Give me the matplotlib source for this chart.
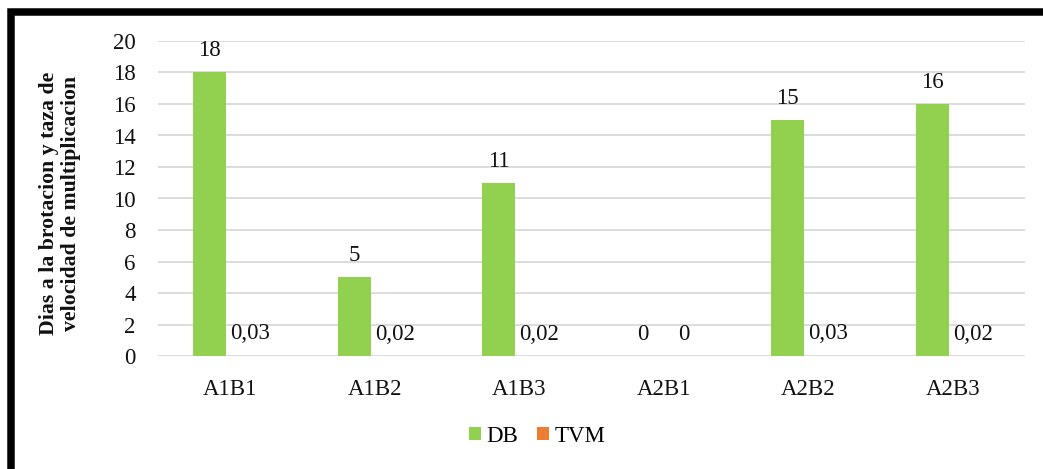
import matplotlib
matplotlib.use("Agg")
import matplotlib.pyplot as plt
import numpy as np
from matplotlib.patches import Rectangle

categories = ["A1B1", "A1B2", "A1B3", "A2B1", "A2B2", "A2B3"]
db_values = [18, 5, 11, 0, 15, 16]
tvm_values = [0.03, 0.02, 0.02, 0, 0.03, 0.02]
db_labels = ["18", "5", "11", "0", "15", "16"]
tvm_labels = ["0,03", "0,02", "0,02", "0", "0,03", "0,02"]
y_ticks = list(range(0, 21, 2))

plt.rcParams["font.family"] = ["Liberation Serif", "DejaVu Serif"]

W, H = 1043, 469
fig = plt.figure(figsize=(W / 100, H / 100), dpi=100)
ax = fig.add_axes([158 / W, 1 - 356 / H, (1025 - 158) / W, (356 - 41) / H])

green = "#92D050"
orange = "#ED7D31"
x = np.arange(len(categories))
w = 0.228
shift = -0.028  # groups sit slightly left of the category centre

b1 = ax.bar(x + shift - w / 2, db_values, w, color=green, label="DB", zorder=3)
b2 = ax.bar(x + shift + w / 2, tvm_values, w, color=orange, label="TVM", zorder=3)

for xi, v, lab in zip(x, db_values, db_labels):
    ax.annotate(lab, (xi + shift - w / 2, v), xytext=(0, 8), textcoords="offset points",
                ha="center", va="bottom", fontsize=16.5, color="#111111")
for xi, v, lab in zip(x, tvm_values, tvm_labels):
    ax.annotate(lab, (xi + shift + w / 2, v), xytext=(5.5, 8), textcoords="offset points",
                ha="center", va="bottom", fontsize=16.5, color="#111111")

ax.set_xlim(-0.5, len(categories) - 0.5)
ax.set_ylim(0, 20)
ax.set_yticks(y_ticks)
ax.set_xticks(x)
ax.set_xticklabels(categories)
ax.tick_params(axis="both", length=0, labelsize=16.5, colors="#111111")
ax.tick_params(axis="y", pad=16)
ax.tick_params(axis="x", pad=16.5)
ax.grid(axis="y", color="#d9d9d9", linewidth=1.3, zorder=0)
for s in ax.spines.values():
    s.set_visible(False)

fig.text(60 / W, 1 - 203 / H, "Dias a la brotacion y taza de\nvelocidad de multiplicacion",
         rotation=90, ha="center", va="center", fontsize=15.7, fontweight="bold",
         linespacing=1.15, color="#111111")

fig.legend(handles=[b1, b2], labels=["DB", "TVM"], loc="center",
           bbox_to_anchor=(537 / W, 1 - 436 / H), ncol=2, frameon=False,
           fontsize=16.5, handlelength=0.52, handleheight=0.52, handletextpad=0.25,
           columnspacing=0.8)

# heavy outer frame
fig.add_artist(Rectangle((11 / W, -0.5), 2.0, (0.5 + 1 - 12 / H), transform=fig.transFigure,
                         fill=False, edgecolor="black", linewidth=5.4))

fig.savefig("out.png", dpi=100)
